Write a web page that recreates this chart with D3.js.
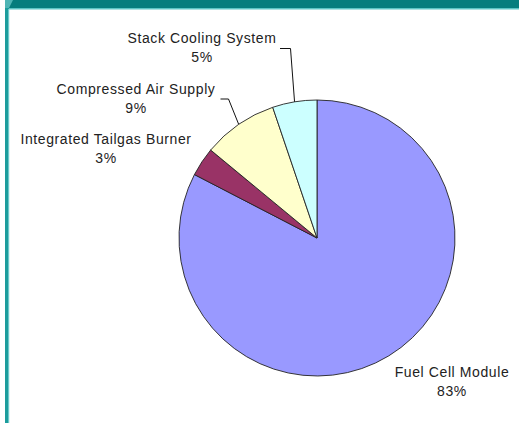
<!DOCTYPE html>
<html>
<head>
<meta charset="utf-8">
<script src="https://cdn.jsdelivr.net/npm/d3@7"></script>
<style>
  html, body { margin: 0; padding: 0; background: #fff; }
  svg { display: block; }
  text { font-family: "Liberation Sans", Arial, sans-serif; font-size: 14px; letter-spacing: 0.6px; fill: #222; }
</style>
</head>
<body>
<svg id="chart" width="519" height="423"></svg>
<script>
// Cost breakdown by subsystem (percent of total)
const categories = ["Fuel Cell Module", "Integrated Tailgas Burner", "Compressed Air Supply", "Stack Cooling System"];
const shares = [82.6, 3.4, 8.8, 5.2];
const sliceColors = ["#9999ff", "#993366", "#ffffcc", "#ccffff"];

// Label anchors (centre x, first-line baseline y) and leader elbows
const labelAnchors = [[452, 377], [106, 144], [136, 94], [202, 43]];
const leaderElbows = [null, null, [[228.5, 99], [220.5, 99]], [[290.5, 48.5], [280, 48.5]]];

const svg = d3.select("#chart");
const W = 519, H = 423;

// Frame: teal header band and left rule
svg.append("rect").attr("x", 0).attr("y", 0).attr("width", W).attr("height", H).attr("fill", "#ffffff");
svg.append("rect").attr("x", 5).attr("y", 0).attr("width", W - 5).attr("height", 9).attr("fill", "#067d7d");
svg.append("rect").attr("x", 9).attr("y", 8).attr("width", W - 9).attr("height", 1.5).attr("fill", "#5cc3c3");
svg.append("rect").attr("x", 5).attr("y", 0).attr("width", 4).attr("height", H).attr("fill", "#1c9c9c");
svg.append("rect").attr("x", 8).attr("y", 9).attr("width", 1.2).attr("height", H - 9).attr("fill", "#6cc9c9");
svg.append("polygon").attr("points", "5,0 13,0 9,8 5,8").attr("fill", "#4fb5b5");

const cx = 317, cy = 238, r = 138;
const data = categories.map((c, i) => ({ name: c, value: shares[i], color: sliceColors[i] }));
const pie = d3.pie().sort(null).value(d => d.value).startAngle(0).endAngle(2 * Math.PI);
const arcs = pie(data);
const total = d3.sum(shares);

const arc = d3.arc().innerRadius(0).outerRadius(r);
const edge = d3.arc().innerRadius(r).outerRadius(r);

const g = svg.append("g").attr("transform", `translate(${cx},${cy})`);
g.selectAll("path.slice")
  .data(arcs)
  .join("path")
  .attr("class", "slice")
  .attr("d", arc)
  .attr("fill", d => d.data.color)
  .attr("stroke", "#222")
  .attr("stroke-width", 0.9)
  .attr("stroke-linejoin", "round");

// Leader lines from slice edge to label
arcs.forEach((d, i) => {
  const el = leaderElbows[i];
  if (!el) return;
  const [ex, ey] = edge.centroid(d);
  const pts = [[cx + ex, cy + ey], ...el];
  svg.append("path")
    .attr("d", d3.line()(pts))
    .attr("fill", "none")
    .attr("stroke", "#111")
    .attr("stroke-width", 1);
});

// Category labels with percentages
arcs.forEach((d, i) => {
  const [lx, ly] = labelAnchors[i];
  const t = svg.append("text").attr("text-anchor", "middle");
  t.append("tspan").attr("x", lx).attr("y", ly).text(d.data.name);
  t.append("tspan").attr("x", lx).attr("y", ly + 18.5)
    .text(Math.round(d.data.value / total * 100) + "%");
});
</script>
</body>
</html>
